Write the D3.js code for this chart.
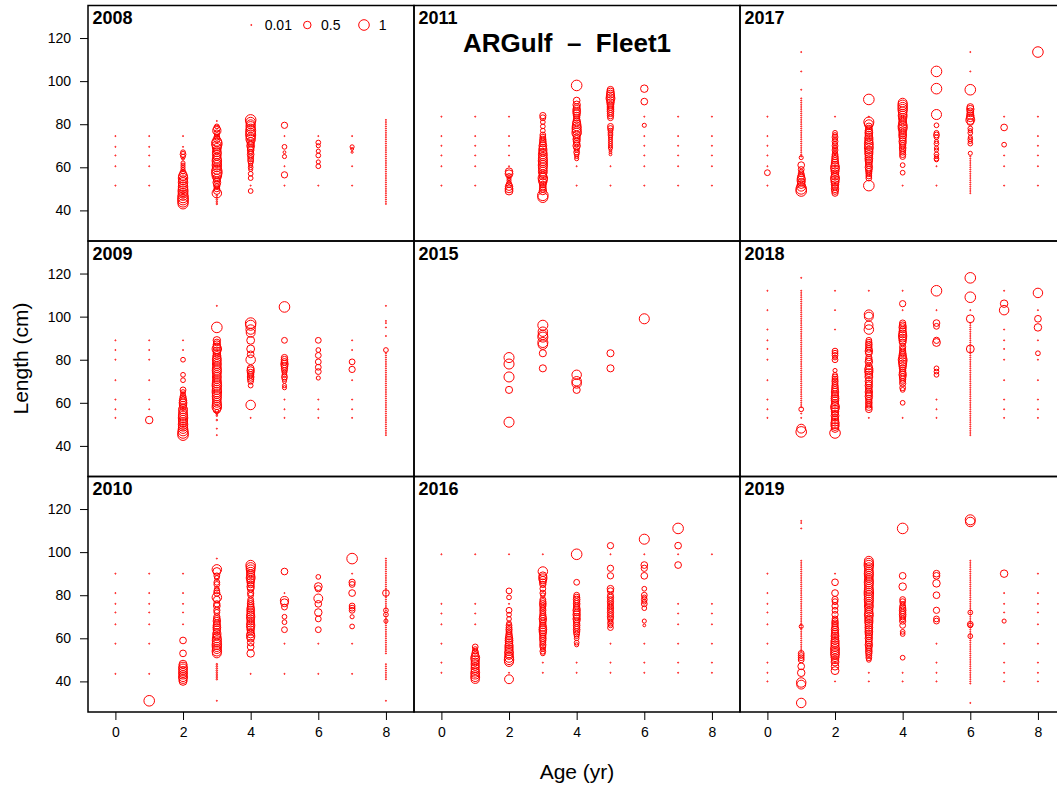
<!DOCTYPE html>
<html><head><meta charset="utf-8">
<script src="https://cdn.jsdelivr.net/npm/d3@7"></script>
<style>
body{margin:0;background:#fff}
svg{display:block}
text{font-family:"Liberation Sans",Arial,Helvetica,sans-serif}
</style>
</head><body>
<svg id="chart" width="1057" height="789"></svg>
<script>
// ---------------- data ----------------
// Panels are filled column by column (as in the reference).
const years = [2008, 2009, 2010, 2011, 2015, 2016, 2017, 2018, 2019];
const ageTicks = [0, 2, 4, 6, 8];
const lengthTicks = [40, 60, 80, 100, 120];
const legendValues = [0.01, 0.5, 1];
const titleText = "ARGulf  \u2013  Fleet1";
const xTitle = "Age (yr)";
const yTitle = "Length (cm)";

// Each entry: [age, observations]; an observation is [length, proportion],
// a bare number is a length observed with the minimum proportion (0.01).
const obs2008 = [
  [0, [74.5, 69.5, 65.5, 60.5, 51.5]],
  [1, [74.5, 69.5, 65.5, 60.5, 51.5]],
  [2, [74.5, 69.5, [67,.2],[66,.3],[65,.2],[64,.07],[62,.15],[61,.15],[60,.15],[59,.15],[58,.2],[57,.45],[56,.7],[55,.8],[54,.7],[53,.8],[52,.7],[51,.8],[50,.8],[49,.9],[48,.8],[47,.9],[46,1],[45,1],[44,1],[43,.9]]],
  [3, [81.5, [79,.2],[78,.4],[77,.6],[76,.3],[75,.2],[74,.3],[73,.4],[72,.8],[71,1],[70,.8],[69,.7],[68,.55],[67,.7],[66,.7],[65,.55],[64,.7],[63,.8],[62,.7],[61,.8],[60,.7],[59,.8],[58,1],[57,.9],[56,.8],[55,.55],[54,.4],[53,.55],[52,.4],[51,.3],[50,.3],[49,.4],[48,.8],[47,.02],[46,.02],[45,.02],[44,.02],[43,.02]]],
  [4, [[82,1],[81,.8],[80,.7],[79,.8],[78,.7],[77,.9],[76,.8],[75,.9],[74,.7],[73,.8],[72,.55],[71,.4],[70,.55],[69,.4],[68,.4],[67,.3],[66,.4],[65,.3],[64,.3],[63,.3],[62,.2],[61,.15],[60,.2],[59,.15],[57,.2],[55,.2], 51.5, [49,.2]]],
  [5, [[79.5,.35], 74.5, [69.5,.2],[67,.07],[65,.15], 60.5, [56.5,.35], 51.5]],
  [6, [74.5, [71.5,.2],[70,.15],[67.5,.15],[65.5,.2],[62.5,.15],[60.5,.2], 51.5]],
  [7, [74.5, [69.5,.15],[68.5,.07],[67,.04], 60.5, 51.5]],
  [8, [43,44,45,46,47,48,49,50,51,52,53,54,55,56,57,58,59,60,61,62,63,64,65,66,67,68,69,70,71,72,73,74,75,76,77,78,79,80,81,82]]
];

const obs2009 = [
  [0, [89, 84.5, 80, 70.5, 61.5, 57, 53]],
  [1, [89, 84.5, 80, 70.5, 61.5, 57, [52,.5]]],
  [2, [89, 84.5, [80,.2],[73,.2],[70.5,.2],[66,.3],[65,.2],[64,.2],[63,.3],[62,.4],[61,.5],[60,.55],[59,.5],[58,.4],[57,.7],[56,.6],[55,.7],[54,.75],[53,.8],[52,.75],[51,.7],[50,.8],[49,.75],[48,.8],[47,.9],[46,1],[45,1]]],
  [3, [105, [95,1],[89,.5],[88,.4],[87,.5],[86,.55],[85,.8],[84,.55],[83,.5],[82,.55],[81,.6],[80,.7],[79,.6],[78,.7],[77,.6],[76,.7],[75,.75],[74,.7],[73,.6],[72,.7],[71,.6],[70,.7],[69,.75],[68,.8],[67,.7],[66,.75],[65,.8],[64,.7],[63,.75],[62,.7],[61,.6],[60,.7],[59,.75],[58,.8],[57,.55],[56,.15],[55,.04],[54,.02],[52,.02], 48, 45]],
  [4, [[97,1],[96,.9],[94,.8],[92.5,.7],[89,.55],[85,.55],[82.5,.4],[80,.8],[76,.4],[75,.5],[74,.4],[73,.35],[72,.4],[71,.35],[70,.3],[68,.2],[59,.8], 53]],
  [5, [[104.5,1],[89,.3],[81,.35],[80,.4],[79,.4],[78,.5],[77,.4],[76,.35],[75,.3],[74,.2],[73,.2],[72,.3],[71,.2],[70,.15],[68,.15],[67,.15], 61.5, 57, 53]],
  [6, [[89,.3],[84.5,.2],[82,.3],[79,.3],[76.5,.3],[74.5,.3],[71.5,.15], 61.5, 57, 53]],
  [7, [89, 84.5, [79,.3],[75.5,.35], 70.5, 61.5, 57, 53]],
  [8, [105, 98, 97, 95, 91, [84.5,.2], 83,82,81,80,79,78,77,76,75,74,73,72,71,70,69,68,67,66,65,64,63,62,61,60,59,58,57,56,55,54,53,52,51,50,49,48,47,46,45]]
];

const obs2010 = [
  [0, [90, 81, 76, 72, 66.5, 57.5, 43.5]],
  [1, [90, 81, 76, 72, 66.5, 57.5, 43.5, [31,1]]],
  [2, [90, 81, 76, 72, 66.5, [59,.4],[53,.4],[48,.55],[47,.6],[46,.7],[45,.6],[44,.7],[43,.6],[42,.7],[41,.6],[40,.55]]],
  [3, [97, [92,.8],[91,.55],[89,.3],[88,.2],[86,.3],[85,.3],[83,.2],[82,.3],[81,.35],[79,.8],[78,.4],[76,.35],[75,.4],[73,.35],[72,.3],[70,.35],[69,.4],[68,.5],[67,.4],[66,.5],[65,.55],[64,.5],[63,.4],[62,.6],[61,.55],[60,.7],[59,.75],[58,.7],[57,.8],[56,.75],[55,.7],[54,.8],[53,.7],[48,.02],[47,.02],[46,.02],[45,.02],[44,.02],[43,.02],[42,.02],[41,.02], 31]],
  [4, [[94,.8],[93,.75],[92,.7],[91,.6],[90,.55],[89,.6],[88,.7],[87,.55],[86,.5],[85,.4],[84,.5],[83,.4],[81,.35],[80,.3],[78,.3],[77,.35],[76,.4],[75,.4],[74,.5],[73,.55],[72,.5],[71,.55],[70,.6],[69,.55],[68,.5],[67,.55],[66,.6],[65,.55],[64,.5],[63,.4],[62,.55],[61,.6],[60,.5],[58,.4],[56,.4],[53,.5], 43.5]],
  [5, [[91,.4], 81, [77.5,.6],[76.5,.55],[74.5,.3],[70,.2],[67.5,.2],[64,.3], 57.5, 43.5]],
  [6, [[88.5,.2],[84,.55],[83,.35],[78.5,.7],[76,.4],[72,.5],[69,.3],[64,.3], 57.5, 43.5]],
  [7, [[97,1], 90, [86,.35],[85,.3],[81,.4],[75,.3],[74,.3],[73,.3],[70,.15],[65.5,.2], 57.5, 43.5]],
  [8, [97,96,95,94,93,92,91,90,89,88,87,86,85,84,83,82,81,80,79,78,77,76,75,74,73,72,71,70,69,68,67,66,65,64,63,62,61,60,59,58,57,56,55,54,53, [81,.4],[73,.2],[71,.2],[68,.15], 48,47,46,45,44,43,42,41, 31]]
];

const obs2011 = [
  [0, [83.5, 74.5, 70, 65.5, 60.5, 51.5]],
  [1, [83.5, 74.5, 70, 65.5, 60.5, 51.5]],
  [2, [83.5, 74.5, 70, 65.5, 60.5, [58,.5],[57,.55],[56,.2],[55,.15],[54,.15],[53,.15],[52,.3],[51,.5],[50,.55],[49,.55]]],
  [3, [[84,.35],[83,.3],[81,.2],[79,.2],[77,.2],[75,.3],[74,.3],[73,.35],[72,.4],[71,.4],[70,.55],[69,.5],[68,.6],[67,.55],[66,.7],[65,.6],[64,.7],[63,.75],[62,.7],[61,.75],[60,.7],[59,.6],[58,.7],[57,.55],[56,.55],[55,.8],[54,.7],[53,.55],[52,.4],[51,.4],[50,.4],[49,.5],[47,1],[46,.9]]],
  [4, [[98,1],[91,.4],[89,.5],[88,.4],[87,.5],[86,.55],[85,.5],[84,.4],[83,.35],[82,.4],[81,.55],[80,.6],[79,.7],[78,.75],[77,.7],[76,.8],[75,.55],[74,.4],[73,.5],[72,.4],[71,.35],[70,.5],[69,.3],[68,.2],[67,.3],[66,.2],[65,.15],[64,.15], 60.5, 51.5]],
  [5, [[96,.4],[95,.5],[94,.55],[93,.6],[92,.7],[91,.55],[90,.5],[89,.4],[88,.4],[87,.4],[86,.4],[85,.35],[84,.35],[83,.3],[79,.3],[78,.3],[77,.2],[76,.2],[75,.2],[74,.15],[73,.15],[72,.15],[71,.15],[70,.15],[69,.15],[68,.07],[67,.07],[66,.07], 60.5, 51.5]],
  [6, [[96.5,.5],[90.5,.4], 83.5, [79.5,.15], 74.5, 70, 65.5, 60.5, 51.5]],
  [7, [83.5, 74.5, 70, 65.5, 60.5, 51.5]],
  [8, [83.5, 74.5, 70, 65.5, 60.5, 51.5]]
];

const obs2015 = [
  [2, [[81,.9],[78,.9],[72,.9],[66,.45],[51,.9]]],
  [3, [[96,.9],[93,.8],[91.5,.8],[90.5,.9],[88,.9],[87,.8],[83,.45],[76,.45]]],
  [4, [[73,.8],[70,.8],[69,.8],[66,.45]]],
  [5, [[83,.45],[76,.45]]],
  [6, [[99,.9]]]
];

const obs2016 = [
  [0, [99, 76, 71.5, 66.5, 57.5, 48.7, 44]],
  [1, [99, 76, 71.5, 66.5, [56,.3],[55,.2],[54,.3],[53,.4],[52,.5],[51,.7],[50,.6],[49,.55],[48,.6],[47,.55],[46,.6],[45,.55],[44,.7],[43,.6],[42,.7],[41,.6]]],
  [2, [99, [82,.3],[79,.2], 76, [73,.3],[71,.2],[69,.2],[67,.2],[66,.3],[65,.3],[64,.35],[63,.3],[62,.35],[61,.4],[60,.5],[59,.55],[58,.5],[57,.55],[56,.6],[55,.55],[54,.6],[53,.7],[52,.55],[51,.75],[50,.8],[49,.7], 44, [41,.7]]],
  [3, [99, [91,.8],[89,.55],[88,.6],[87,.5],[86,.4],[85,.35],[83,.3],[81,.3],[80,.2],[78,.3],[77,.35],[76,.4],[75,.35],[74,.3],[73,.35],[72,.3],[71,.35],[70,.4],[69,.5],[68,.4],[67,.35],[66,.4],[65,.5],[64,.55],[63,.5],[62,.4],[61,.35],[60,.4],[59,.35],[58,.3],[57,.35],[56,.3],[55,.2],[54,.3],[53,.2], 48.7, 44]],
  [4, [[99,1],[86,.3],[80,.3],[79,.35],[78,.4],[77,.35],[76,.4],[75,.35],[74,.4],[73,.5],[72,.4],[71,.5],[70,.4],[69,.5],[68,.4],[67,.35],[66,.4],[65,.35],[64,.4],[63,.35],[62,.3],[61,.2],[60,.2],[58,.2],[57,.15], 48.7, 44]],
  [5, [[103,.35], 99, [92.5,.35],[89,.35],[83,.4],[82,.35],[80,.3],[79,.35],[78,.3],[77,.35],[76,.3],[75,.3],[74,.35],[73,.3],[72,.35],[71,.3],[70,.35],[69,.3],[68,.2],[67,.3],[66,.2],[65,.3], 57.5, 48.7, 44]],
  [6, [[106,.9], 99, [94,.4],[92.5,.35],[89,.4],[83,.2],[80,.3],[79,.2],[78,.3],[77,.2],[76,.3],[74,.2],[68,.15],[66,.07], 57.5, 48.7, 44]],
  [7, [[111,1],[103,.4], 99, [94,.4], 76, 71.5, 66.5, 57.5, 48.7, 44]],
  [8, [99, 76, 71.5, 66.5, 57.5, 48.7, 44]]
];

const obs2017 = [
  [0, [83.5, 74.5, 70, 65.5, 60.5, [57.5,.3], 51.5]],
  [1, [113.5, 104.5, 96, 92, 91, 90, 89, 88, 87, 86, 85, 84, 83, 82, 81, 80, 79, 78, 77, 76, 75, 74, 73, 72, 71, 70, 69, 68, 67, 66, 65, [64.5,.15],[61,.4],[59,.3],[58,.2],[57,.3],[56,.4],[55,.55],[54,.6],[53,.5],[52,.55],[51,.7],[50,1],[49,1]]],
  [2, [83.5, [76,.2],[75,.2],[74,.3],[73,.2],[72,.3],[71,.2],[70,.3],[69,.2],[68,.3],[67,.2],[66,.3],[65,.35],[64,.4],[63,.4],[62,.5],[61,.55],[60,.7],[59,.6],[58,.55],[57,.5],[56,.55],[55,.7],[54,.6],[53,.55],[52,.5],[51,.4],[50,.5],[49,.4],[48,.35]]],
  [3, [[91.5,1], 83.5, [81,.9],[80,.7],[79,.4],[78,.4],[77,.5],[76,.55],[75,.5],[74,.55],[73,.6],[72,.55],[71,.7],[70,.6],[69,.7],[68,.55],[67,.6],[66,.55],[65,.5],[64,.55],[63,.5],[62,.4],[61,.4],[60,.5],[59,.4],[58,.35],[57,.3],[56,.3],[55,.3],[51.5,1]]],
  [4, [[90,.7],[89,.8],[88,.75],[87,.8],[86,.7],[85,.6],[84,.7],[83,.6],[82,.5],[81,.55],[80,.6],[79,.75],[78,.7],[77,.55],[76,.5],[75,.55],[74,.5],[73,.4],[72,.5],[71,.4],[70,.35],[69,.4],[68,.35],[67,.3],[66,.35],[65,.3],[61,.2],[57.5,.2], 51.5]],
  [5, [[104.5,1],[96.5,1],[84.5,.9],[79.5,.2],[76,.2],[75,.3],[74,.2],[72,.15],[71,.2],[69,.15],[68,.15],[66,.2],[65,.15],[64,.2],[63.5,.15], 60.5, 51.5]],
  [6, [113.5, 104.5, [96,1],[88,.4],[87,.5],[86,.4],[85,.4],[84,.5],[83,.55],[82,.7],[81,.4],[78,.2],[77,.15],[76,.2],[74,.15],[73,.2],[72,.15],[71,.2],[66.5,.15], 65, 64, 63, 62, 61, 60, 59, 58, 57, 56, 55, 54, 53, 52, 51, 50, 49, 48]],
  [7, [83.5, [78.5,.4],[70.5,.2], 65.5, 60.5, 51.5]],
  [8, [[113.5,1], 83.5, 74.5, 70, 65.5, 60.5, 51.5]]
];

const obs2018 = [
  [0, [112, 103, 94, 89, 85, 80, 70.5, 61.5, 57, 53]],
  [1, [118, 112,111,110,109,108,107,106,105,104,103,102,101,100,99,98,97,96,95,94,93,92,91,90,89,88,87,86,85,84,83,82,81,80,79,78,77,76,75,74,73,72,71,70,69,68,67,66,65,64,63,62,61,60,59,58, [57,.2], 55, 53, [48,.7],[46.5,1]]],
  [2, [112, 103, 94, [84,.3],[83,.3],[82,.3],[81,.2],[80,.3],[75,.15],[73,.2],[72,.3],[71,.3],[70,.35],[69,.3],[68,.35],[67,.4],[66,.4],[65,.5],[64,.4],[63,.5],[62,.55],[61,.5],[60,.4],[59,.55],[58,.7],[57,.55],[56,.5],[55,.4],[54,.55],[53,.4],[52,.5],[51,.55],[50,.6],[49,.55],[48,.5],[46,1]]],
  [3, [112, [101,.75],[100,.7],[96,.6],[94,.8],[89,.3],[88,.35],[87,.4],[86,.35],[85,.4],[84,.5],[83,.4],[81,.35],[80,.4],[79,.5],[77,.4],[76,.55],[75,.6],[74,.55],[73,.5],[72,.55],[70,.5],[69,.4],[68,.5],[67,.4],[66,.4],[65,.5],[64,.4],[63,.5],[62,.4],[61,.35],[60,.4],[59,.35],[58,.4],[57,.4], 53]],
  [4, [112, [106,.35], 103, [97,.35],[96,.4],[95,.5],[94,.4],[93,.5],[92,.55],[91,.6],[90,.55],[89,.5],[88,.4],[86,.35],[85,.3],[84,.35],[83,.4],[82,.5],[81,.55],[80,.7],[79,.6],[78,.55],[77,.5],[76,.4],[75,.35],[74,.4],[73,.5],[72,.4],[71,.35],[70,.3],[69,.35],[67,.3],[66,.2],[60,.2], 53]],
  [5, [[112,1], 103, [97,.4],[95.5,.3],[89,.35],[88,.55],[76,.2],[74.5,.2],[73,.2], 61.5, 57, 53]],
  [6, [[118,1],[109,1], 103, [99,.55],[85,.55], 97,96,95,94,93,92,91,90,89,88,87,86,85,84,83,82,81,80,79,78,77,76,75,74,73,72,71,70,69,68,67,66,65,64,63,62,61,60,59,58,57,56,55,54,53,52,51,50,49,48,47,46,45]],
  [7, [112, [106,.5],[103,.8], 94, 89, 85, 80, 70.5, 61.5, 57, 53]],
  [8, [[111,.8], 103, [99,.4],[95,.5], 89, [83,.2], 80, 70.5, 61.5, 57, 53]]
];

const obs2019 = [
  [0, [90, 81, 76, 72, 66.5, 57.5, 48.7, 44, 40]],
  [1, [114.5, 113.5, 111, 96,95,94,93,92,91,90,89,88,87,86,85,84,83,82,81,80,79,78,77,76,75,74,73,72,71,70,69,68,67,66,65,64,63,62,61,60,59,58,57,56,55,54, [65.5,.15],[53,.3],[52,.3],[51,.3],[50,.3],[47,.4],[44,.5],[39.5,.8],[38.5,.7],[30,.8]]],
  [2, [90, [86,.4],[81,.4],[78,.35],[77,.3],[75,.35],[73,.3],[71,.35],[69,.3],[68,.35],[67,.4],[66,.35],[65,.4],[64,.5],[63,.4],[62,.5],[61,.55],[60,.5],[59,.55],[58,.6],[57,.55],[56,.6],[55,.7],[54,.6],[53,.7],[52,.6],[51,.55],[50,.5],[49,.55],[47,.5],[45,.55], 40]],
  [3, [[96,.7],[95,.75],[94,.8],[93,.7],[92,.6],[91,.7],[90,.75],[89,.7],[88,.6],[87,.7],[86,.75],[85,.7],[84,.6],[83,.7],[82,.75],[81,.8],[80,.75],[79,.7],[78,.75],[77,.7],[76,.6],[75,.7],[74,.6],[73,.55],[72,.6],[71,.7],[70,.6],[69,.55],[68,.6],[67,.55],[66,.5],[65,.55],[64,.5],[63,.55],[62,.5],[61,.4],[60,.5],[59,.4],[58,.4],[57,.5],[56,.4],[55,.35],[54,.4],[53,.35],[52,.3],[51,.3],[50,.2], 44, 40]],
  [4, [[111,1],[89,.4],[84,.5],[78,.3],[77,.3],[76,.2],[75,.3],[74,.35],[73,.4],[72,.35],[71,.4],[70,.35],[69,.3],[68,.35],[66,.3],[63,.2],[62,.2],[51,.2], 44, 40]],
  [5, [[90,.4],[89,.4],[85.5,.5],[80,.4],[73,.35],[69,.3],[68,.3], 57.5, 48.7, 44, 40]],
  [6, [[115,.9],[114,.8], 96,95,94,93,92,91,90,89,88,87,86,85,84,83,82,81,80,79,78,77,76,75,74,73,72,71,70,69,68,67,66,65,64,63,62,61,60,59,58,57,56,55,54,53,52,51,50,49,48,47,46,45,44,43,42,41,40,39, [72,.2],[66.5,.3],[66,.2],[61,.2], 30]],
  [7, [[90,.5], 81, 76, 72, [68,.15], 57.5, 48.7, 44, 40]],
  [8, [90, 81, 76, 72, 66.5, 57.5, 48.7, 44, 40]]
];

const yearObs = [obs2008, obs2009, obs2010, obs2011, obs2015, obs2016, obs2017, obs2018, obs2019];

// ---------------- layout ----------------
const colLeft = [88, 414, 740];
const rowTop = [5.5, 241, 476.5];
const PW = 326, PH = 235.5;
const RED = "#ff0000";

const svg = d3.select("#chart");
const x = d3.scaleLinear().domain([-0.81, 8.83]).range([0, PW]);
const y = d3.scaleLinear().domain([25.8, 135.1]).range([PH, 0]);
const r = d3.scaleSqrt().domain([0, 1]).range([0, 5.3]);

function flatten(groups) {
  const out = [];
  groups.forEach(([age, list]) => {
    list.forEach(o => {
      if (Array.isArray(o)) out.push({age, len: o[0], p: o[1]});
      else out.push({age, len: o, p: 0.01});
    });
  });
  return out;
}

years.forEach((yr, i) => {
  const col = Math.floor(i / 3), row = i % 3;
  const g = svg.append("g").attr("transform", `translate(${colLeft[col]},${rowTop[row]})`);
  const pts = flatten(yearObs[i]);
  g.append("g").selectAll("circle").data(pts).join("circle")
    .attr("cx", d => x(d.age))
    .attr("cy", d => y(d.len))
    .attr("r", d => r(d.p))
    .attr("fill", "none")
    .attr("stroke", RED)
    .attr("stroke-width", 1);
  g.append("rect").attr("x", 0).attr("y", 0).attr("width", PW).attr("height", PH)
    .attr("fill", "none").attr("stroke", "#000").attr("stroke-width", 1.5);
  g.append("text").attr("x", 4.5).attr("y", 18.5)
    .attr("font-size", 18).attr("font-weight", "bold").text(yr);

  if (col === 0) {
    const ax = g.append("g").call(d3.axisLeft(y).tickValues(lengthTicks).tickSize(8).tickPadding(9).tickSizeOuter(0));
    ax.select(".domain").remove();
    ax.selectAll("text").attr("font-size", 14).attr("font-family", "Liberation Sans, Arial, sans-serif").attr("fill", "#000");
    ax.selectAll("line").attr("stroke", "#000");
  }
  if (row === 2) {
    const ax = g.append("g").attr("transform", `translate(0,${PH})`)
      .call(d3.axisBottom(x).tickValues(ageTicks).tickSize(8).tickPadding(7).tickSizeOuter(0));
    ax.select(".domain").remove();
    ax.selectAll("text").attr("font-size", 14).attr("font-family", "Liberation Sans, Arial, sans-serif").attr("fill", "#000");
    ax.selectAll("line").attr("stroke", "#000");
  }
  if (i === 0) {
    // legend
    const lg = g.append("g");
    const lx = [163.3, 219.3, 276];
    const tx = [176.7, 233, 290.7];
    legendValues.forEach((v, k) => {
      lg.append("circle").attr("cx", lx[k]).attr("cy", 19.5).attr("r", r(v))
        .attr("fill", "none").attr("stroke", RED).attr("stroke-width", 1);
      lg.append("text").attr("x", tx[k]).attr("y", 24.5).attr("font-size", 14).text(v);
    });
  }
});

// titles
svg.append("text").attr("x", 567).attr("y", 52.3).attr("text-anchor", "middle")
  .attr("font-size", 26).attr("font-weight", "bold").style("white-space", "pre").text(titleText);
svg.append("text").attr("x", 577).attr("y", 778.7).attr("text-anchor", "middle")
  .attr("font-size", 21).text(xTitle);
svg.append("text").attr("transform", "translate(28,358.5) rotate(-90)").attr("text-anchor", "middle")
  .attr("font-size", 21).text(yTitle);
</script>
</body></html>
